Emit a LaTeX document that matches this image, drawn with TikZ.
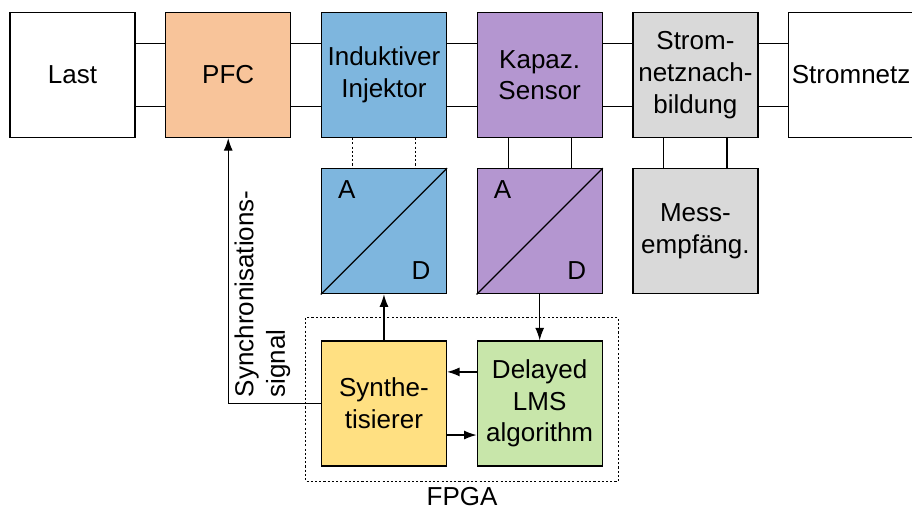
\documentclass[tikz,border=0pt]{standalone}
\usepackage{fontspec}
\setmainfont{Liberation Sans}
\usetikzlibrary{calc,positioning,arrows.meta}

\definecolor{pfcorange}{RGB}{248,196,154}
\definecolor{injblue}{RGB}{126,182,222}
\definecolor{senspurple}{RGB}{180,150,208}
\definecolor{lisngrey}{RGB}{217,217,217}
\definecolor{synthyellow}{RGB}{255,224,130}
\definecolor{lmsgreen}{RGB}{200,230,170}

\tikzset{
  blk/.style={draw,line width=0.7pt,minimum width=2.5cm,minimum height=2.5cm,align=center,inner sep=1pt},
  wire/.style={line width=0.7pt},
  sig/.style={wire,-{Latex[length=2.5mm,width=1.8mm]}},
  dots/.style={line width=0.7pt,dash pattern=on 1.2pt off 1.2pt},
}

\begin{document}
\begin{tikzpicture}[font=\fontsize{14.8}{18}\selectfont]
  \useasboundingbox (0,0) rectangle (18.24,-10.18);

  % power path
  \node[blk] (last) at (1.45,-1.5) {Last};
  \node[blk,fill=pfcorange,right=0.59cm of last] (pfc) {PFC};
  \node[blk,fill=injblue,right=0.59cm of pfc] (inj) {Induktiver\\Injektor};
  \node[blk,fill=senspurple,right=0.59cm of inj] (sens) {Kapaz.\\Sensor};
  \node[blk,fill=lisngrey,right=0.59cm of sens] (lisn) {Strom-\\netznach-\\bildung};
  \node[blk,right=0.59cm of lisn] (grid) {Stromnetz};

  \foreach \a/\b in {last/pfc,pfc/inj,inj/sens,sens/lisn,lisn/grid} {
    \draw[wire] ($(\a.north east)!0.25!(\a.south east)$) -- ($(\b.north west)!0.25!(\b.south west)$);
    \draw[wire] ($(\a.north east)!0.75!(\a.south east)$) -- ($(\b.north west)!0.75!(\b.south west)$);
  }

  % converters
  \node[blk,fill=injblue,below=0.6cm of inj] (dac) {};
  \node[blk,fill=senspurple,below=0.6cm of sens] (adc) {};
  \node[blk,fill=lisngrey,below=0.6cm of lisn] (rx) {Mess-\\empfäng.};

  \foreach \c in {dac,adc} {
    \draw[wire] (\c.south west) -- (\c.north east);
    \node (\c A) at ($(\c.north west)+(0.52,-0.42)$) {A};
    \node (\c D) at ($(\c.south east)+(-0.52,0.48)$) {D};
  }

  \draw[dots] ($(inj.south west)!0.25!(inj.south east)$) -- ($(dac.north west)!0.25!(dac.north east)$);
  \draw[dots] ($(inj.south west)!0.75!(inj.south east)$) -- ($(dac.north west)!0.75!(dac.north east)$);
  \foreach \a/\b in {sens/adc,lisn/rx} {
    \draw[wire] ($(\a.south west)!0.25!(\a.south east)$) -- ($(\b.north west)!0.25!(\b.north east)$);
    \draw[wire] ($(\a.south west)!0.75!(\a.south east)$) -- ($(\b.north west)!0.75!(\b.north east)$);
  }

  % FPGA
  \node[blk,fill=synthyellow,below=0.92cm of dac] (synth) {Synthe-\\tisierer};
  \node[blk,fill=lmsgreen,below=0.92cm of adc] (lms) {Delayed\\LMS\\algorithm};

  \draw[sig] (synth.north) -- (dac.south);
  \draw[sig] (adc.south) -- (lms.north);
  \draw[sig] ($(lms.north west)!0.25!(lms.south west)$) -- ($(synth.north east)!0.25!(synth.south east)$);
  \draw[sig] ($(synth.north east)!0.75!(synth.south east)$) -- ($(lms.north west)!0.75!(lms.south west)$);

  \coordinate (corner) at (synth.west -| pfc.south);
  \draw[sig] (synth.west) -- (corner) -- (pfc.south);
  \node[rotate=90,anchor=north west,align=left] (synclbl) at (corner) {Synchronisations-\\signal};

  \coordinate (fpganw) at ($(synth.north west)+(-0.3,0.45)$);
  \coordinate (fpgase) at ($(lms.south east)+(0.31,-0.3)$);
  \draw[dots] (fpganw) rectangle (fpgase);
  \node[anchor=north,inner sep=0pt,yshift=-0.1cm] (fpga) at ($(fpganw |- fpgase)!0.5!(fpgase)$) {FPGA};
\end{tikzpicture}
\end{document}
